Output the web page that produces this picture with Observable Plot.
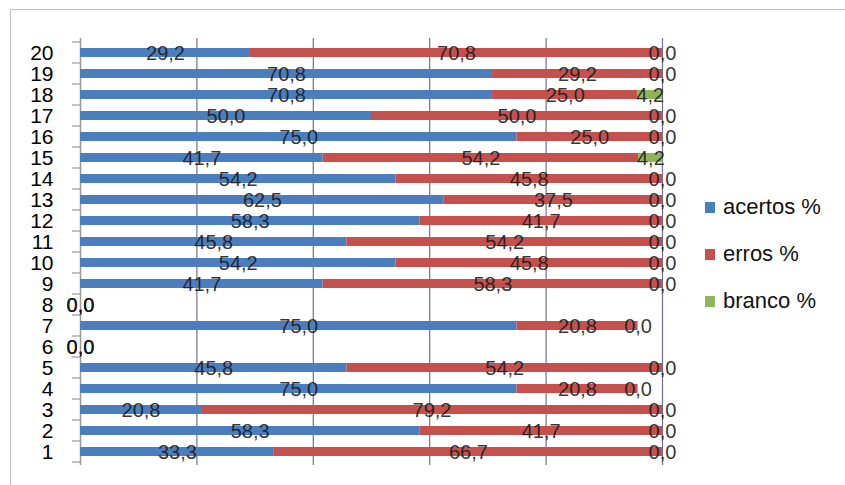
<!DOCTYPE html>
<html>
<head>
<meta charset="utf-8">
<script src="https://cdn.jsdelivr.net/npm/d3@7"></script>
<script src="https://cdn.jsdelivr.net/npm/@observablehq/plot@0.6"></script>
<style>
  html, body { margin: 0; padding: 0; background: #fff; }
  #wrap { position: relative; width: 845px; height: 485px; overflow: hidden; font-family: "Liberation Sans", Arial, sans-serif; }
  #frame { position: absolute; left: 10px; top: 9px; width: 845px; height: 480px; border-left: 1.5px solid #bdbdbd; border-top: 1.5px solid #bdbdbd; }
  #chart { position: absolute; left: 0; top: 0; }
  #legend { position: absolute; left: 705px; top: 0; }
  .li { position: absolute; left: 0; white-space: nowrap; font-size: 22px; color: #111; display: flex; align-items: center; }
  .sw { width: 10px; height: 11px; margin-right: 8px; display: inline-block; }
</style>
</head>
<body>
<div id="wrap">
  <div id="frame"></div>
  <div id="chart"></div>
  <div id="legend"></div>
</div>
<script>
const questions = [1,2,3,4,5,6,7,8,9,10,11,12,13,14,15,16,17,18,19,20];
const acertos = [33.3,58.3,20.8,75.0,45.8,0,75.0,0,41.7,54.2,45.8,58.3,62.5,54.2,41.7,75.0,50.0,70.8,70.8,29.2];
const erros   = [66.7,41.7,79.2,20.8,54.2,0,20.8,0,58.3,45.8,54.2,41.7,37.5,45.8,54.2,25.0,50.0,25.0,29.2,70.8];
const branco  = [0,0,0,0,0,0,0,0,0,0,0,0,0,0,4.2,0,0,4.2,0,0];
const seriesNames = ["acertos %", "erros %", "branco %"];
const seriesColors = ["#4a7ebf", "#c6504e", "#8fb55a"];
const gridTicks = [20, 40, 60, 80, 100];

const rows = [];
questions.forEach((q, i) => {
  [acertos, erros, branco].forEach((arr, s) => {
    rows.push({q: String(q), serie: seriesNames[s], v: arr[i]});
  });
});
const fmt = v => v.toFixed(1).replace(".", ",");

const bandTicks = {
  render(index, scales, values, dimensions, context, next) {
    const g = d3.create("svg:g");
    const y = scales.y;
    const step = y.step();
    const dom = y.domain();
    const ys = dom.map(d => y(d) - (step - y.bandwidth()) / 2);
    ys.push(y(dom[dom.length - 1]) + y.bandwidth() + (step - y.bandwidth()) / 2);
    ys.forEach(yy => {
      g.append("line").attr("x1", dimensions.marginLeft - 8).attr("x2", dimensions.marginLeft)
        .attr("y1", yy).attr("y2", yy).attr("stroke", "#9a9a9a").attr("stroke-width", 1.2);
    });
    return g.node();
  }
};

const plot = Plot.plot({
  width: 845,
  height: 485,
  marginLeft: 80,
  marginRight: 183,
  marginTop: 38,
  marginBottom: 20,
  style: { fontFamily: "Liberation Sans, Arial, sans-serif", background: "transparent" },
  x: { domain: [0, 100], axis: null },
  y: { domain: questions.slice().reverse().map(String), paddingInner: 0.58, paddingOuter: 0.29, label: null },
  color: { domain: seriesNames, range: seriesColors },
  marks: [
    Plot.ruleX(gridTicks, { stroke: "#6f6f92", strokeWidth: 1.2 }),
    Plot.ruleX([0], { stroke: "#9a9a9a", strokeWidth: 1.5 }),
    Plot.barX(rows, Plot.stackX({ x: "v", y: "q", fill: "serie", order: null })),
    Plot.text(rows, Plot.stackX({ x: "v", y: "q", order: null, text: d => fmt(d.v), fontSize: 20, fill: "#1a1a1a", fillOpacity: 0.9, dy: 1 })),
    Plot.axisY({ tickSize: 0, tickPadding: 27, fontSize: 21, fill: "#000", label: null }),
    Plot.frame({ stroke: "none", ...bandTicks })
  ]
});
document.getElementById("chart").appendChild(plot);

const legend = document.getElementById("legend");
const legendY = [207, 254, 301];
seriesNames.forEach((name, i) => {
  const d = document.createElement("div");
  d.className = "li";
  d.style.top = (legendY[i] - 13) + "px";
  d.innerHTML = `<span class="sw" style="background:${seriesColors[i]}"></span><span>${name}</span>`;
  legend.appendChild(d);
});
</script>
</body>
</html>
